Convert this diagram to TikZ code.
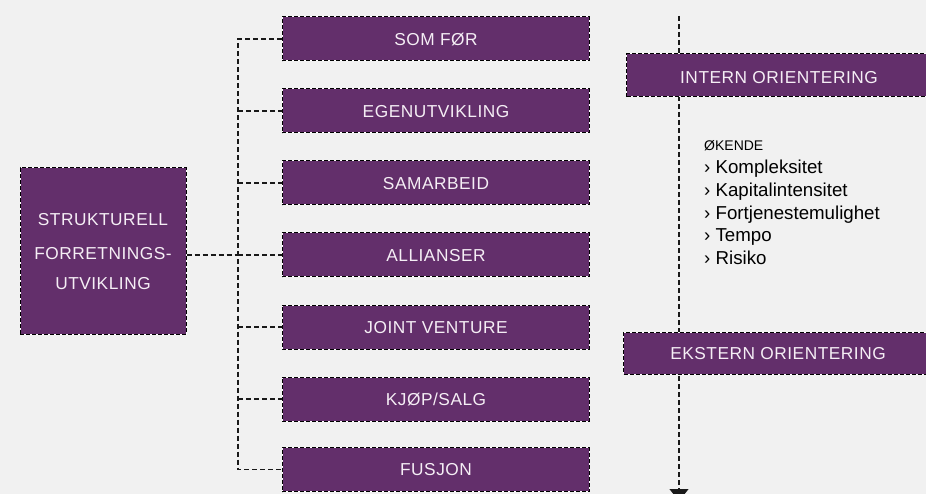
\documentclass[tikz,border=0pt]{standalone}
\usepackage{fontspec}
\setmainfont{Liberation Sans}
\newfontfamily\boxfont[LetterSpace=3]{Liberation Sans}
\usetikzlibrary{arrows.meta}
\definecolor{bg}{RGB}{241,241,241}
\definecolor{plum}{RGB}{99,47,107}
\definecolor{boxtxt}{RGB}{245,238,245}
\tikzset{
  pbox/.style={fill=plum, draw=white, line width=1pt, inner sep=0pt,
    postaction={draw=black, line width=1pt, dash pattern=on 4pt off 2pt}},
  midbox/.style={pbox, minimum width=307pt, minimum height=44pt},
  btxt/.style={font=\boxfont\fontsize{17.3}{17.3}\selectfont, text=boxtxt, inner sep=0pt, anchor=base},
  conn/.style={draw=black!90, line width=1.1pt, dash pattern=on 5pt off 3pt},
  ltxt/.style={font=\fontsize{18.7}{18.7}\selectfont, text=black, inner sep=0pt, anchor=base west}
}
\begin{document}
\begin{tikzpicture}[x=1pt,y=-1pt]
\useasboundingbox (0,0) rectangle (926,494);
\fill[bg] (0,0) rectangle (926,494);
\clip (0,0) rectangle (926,494);
% trunk x and right axis
\coordinate (t) at (238,0);
\coordinate (atop) at (679,16);
\coordinate (abot) at (679,501);
\draw[conn, -{Triangle[width=19pt,length=12pt]}] (atop) -- (abot);
% left box
\node[pbox, minimum width=166pt, minimum height=166pt] (L) at (103,251) {};
\node[btxt] (L1) at (103,226) {STRUKTURELL};
\node[btxt] (L2) at (103,260) {FORRETNINGS-};
\node[btxt] (L3) at (103,289.5) {UTVIKLING};
% middle boxes
\node[midbox] (m1) at (435.5,39) {};
\node[midbox] (m2) at (435.5,111) {};
\node[midbox] (m3) at (435.5,183) {};
\node[midbox] (m4) at (435.5,255) {};
\node[midbox] (m5) at (435.5,327) {};
\node[midbox] (m6) at (435.5,399) {};
\node[midbox] (m7) at (435.5,469.5) {};
\node[btxt] (t1) at (436,45.3) {SOM FØR};
\node[btxt] (t2) at (436,117.3) {EGENUTVIKLING};
\node[btxt] (t3) at (436,189.3) {SAMARBEID};
\node[btxt] (t4) at (436,261.3) {ALLIANSER};
\node[btxt] (t5) at (436,333.3) {JOINT VENTURE};
\node[btxt] (t6) at (436,405.3) {KJØP/SALG};
\node[btxt] (t7) at (436,475.8) {FUSJON};
% connectors
\draw[conn] (m1.west) -- (m1.west -| t) -- (m7.west -| t) -- (m7.west);
\foreach \k in {2,...,6} \draw[conn] (m\k.west -| t) -- (m\k.west);
\draw[conn] (L.east |- m4.west) -- (m4.west -| t);
% right boxes
\node[pbox, minimum width=310pt, minimum height=43pt, anchor=west] (IN) at (626,75.5) {};
\node[pbox, minimum width=315pt, minimum height=42pt, anchor=west] (EX) at (623,353) {};
\node[btxt] (INt) at (779,83.3) {INTERN ORIENTERING};
\node[btxt] (EXt) at (778,359.3) {EKSTERN ORIENTERING};
% list
\node[ltxt, font=\fontsize{14}{14}\selectfont] (ok) at (704,150.7) {ØKENDE};
\node[ltxt] (l1) at (704,174) {› Kompleksitet};
\node[ltxt] (l2) at (704,196.6) {› Kapitalintensitet};
\node[ltxt] (l3) at (704,219.3) {› Fortjenestemulighet};
\node[ltxt] (l4) at (704,242) {› Tempo};
\node[ltxt] (l5) at (704,264.5) {› Risiko};
\end{tikzpicture}
\end{document}
